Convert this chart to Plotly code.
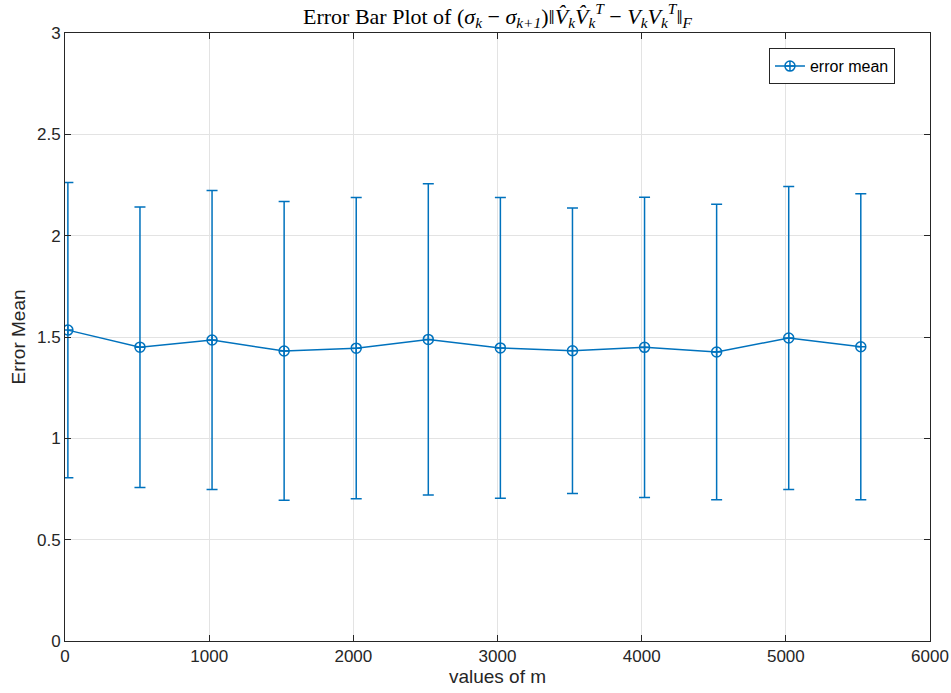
import plotly.graph_objects as go

m_values = [20, 520, 1020, 1520, 2020, 2520, 3020, 3520, 4020, 4520, 5020, 5520]
error_mean = [1.534, 1.450, 1.485, 1.431, 1.445, 1.488, 1.446, 1.432, 1.449, 1.426, 1.495, 1.452]
error_std = [0.728, 0.692, 0.738, 0.737, 0.743, 0.768, 0.742, 0.704, 0.741, 0.729, 0.748, 0.755]

blue = "#0072BD"
fig = go.Figure()
fig.add_trace(go.Scatter(
    x=m_values, y=error_mean, mode="lines+markers", name="error mean",
    line=dict(color=blue, width=1.5),
    marker=dict(symbol="circle-cross-open", size=10, color=blue, line=dict(width=1.5, color=blue)),
    error_y=dict(type="data", array=error_std, visible=True, color=blue, thickness=1.5, width=5.5),
))

sans = "Liberation Sans, Arial, Helvetica"
axis_common = dict(
    showline=True, linecolor="#262626", linewidth=1, mirror="ticks",
    ticks="inside", ticklen=6, tickcolor="#262626",
    showgrid=True, gridcolor="#e3e3e3", gridwidth=1, zeroline=False,
    tickfont=dict(family=sans, size=17, color="#262626"),
)
fig.update_xaxes(range=[0, 6000], dtick=1000, tick0=0,
                 title=dict(text="values of m", standoff=2,
                            font=dict(family=sans, size=19, color="#262626")),
                 **axis_common)
fig.update_yaxes(range=[0, 3], dtick=0.5, tick0=0,
                 title=dict(text="Error Mean", standoff=6,
                            font=dict(family=sans, size=19, color="#262626")),
                 **axis_common)

title_text = ("Error Bar Plot of (<i>σ<sub>k</sub></i> − <i>σ<sub>k+1</sub></i>)"
              "‖<i>V̂<sub>k</sub>V̂<sub>k</sub><sup>T</sup></i> − <i>V<sub>k</sub>V<sub>k</sub><sup>T</sup></i>‖<sub><i>F</i></sub>")
fig.update_layout(
    width=951, height=693,
    margin=dict(l=65, r=21, t=33, b=52, autoexpand=False),
    paper_bgcolor="white", plot_bgcolor="white",
    title=dict(text=title_text, xref="paper", x=0.5, xanchor="center", y=0.988, yanchor="top",
               font=dict(family="Liberation Serif, Times New Roman", size=22, color="black")),
    showlegend=True,
    legend=dict(x=0.9595, y=0.975, xanchor="right", yanchor="top",
                bordercolor="#262626", borderwidth=1, bgcolor="white",
                font=dict(family=sans, size=16, color="black")),
)

fig.write_html("out.html")
